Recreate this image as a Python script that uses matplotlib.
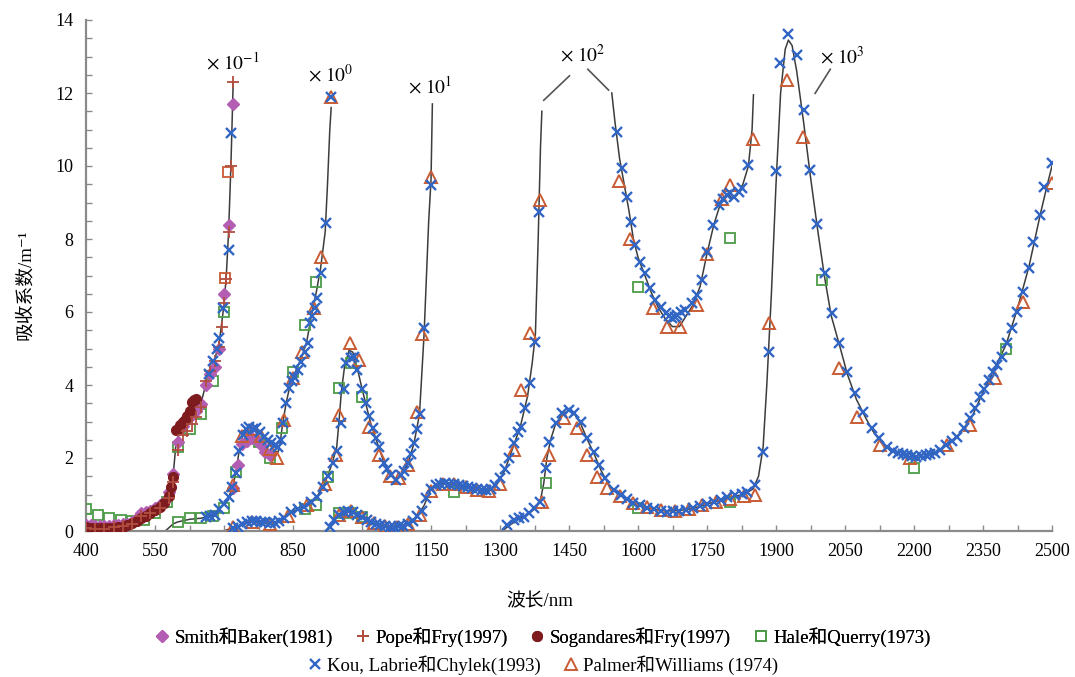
import matplotlib
matplotlib.use('Agg')
import matplotlib.pyplot as plt
from matplotlib.lines import Line2D

plt.rcParams['font.family'] = ['Liberation Serif', 'Noto Sans CJK SC', 'DejaVu Serif']
plt.rcParams['mathtext.fontset'] = 'stix'

# ---- continuous curves, one per scale segment (wavelength nm, value) ----
curve_m1_wl = [400, 420, 440, 460, 480, 500, 520, 540, 560, 575, 585, 590, 595, 600, 610, 620,
               630, 640, 650, 660, 670, 680, 690, 700, 705, 710, 715, 720]
curve_m1_val = [0.07, 0.05, 0.06, 0.10, 0.15, 0.20, 0.30, 0.45, 0.62, 0.85, 1.2, 1.6, 2.3, 2.6, 2.8, 2.9,
                3.05, 3.25, 3.5, 4.0, 4.4, 4.7, 5.2, 6.2, 7.0, 8.2, 10.0, 12.3]

curve_0_wl = [575, 590, 600, 625, 650, 675, 690, 700, 710, 720, 727, 733, 740, 750, 760, 770, 780,
              790, 800, 810, 817, 822, 827, 835, 842, 850, 860, 870, 880, 890, 900, 910, 920, 925, 930, 933]
curve_0_val = [0.03, 0.2, 0.25, 0.32, 0.35, 0.42, 0.6, 0.75, 0.92, 1.25, 1.7, 2.2, 2.6, 2.8, 2.85, 2.78, 2.65,
               2.5, 2.35, 2.2, 2.15, 2.4, 2.9, 3.5, 3.9, 4.2, 4.5, 4.8, 5.2, 5.9, 6.5, 7.2, 8.2, 9.5, 11.0, 11.6]

curve_1_wl = [705, 720, 740, 760, 780, 800, 820, 840, 860, 880, 900, 915, 925, 935, 945, 950, 955, 962,
              972, 980, 990, 1000, 1010, 1020, 1035, 1050, 1062, 1073, 1085, 1100, 1113, 1125, 1135, 1145,
              1150, 1153]
curve_1_val = [0.03, 0.08, 0.18, 0.27, 0.26, 0.22, 0.28, 0.45, 0.6, 0.72, 0.9, 1.2, 1.5, 1.85, 2.3, 3.0, 3.8, 4.5,
               4.95, 4.9, 4.45, 3.9, 3.4, 2.9, 2.35, 1.8, 1.55, 1.42, 1.5, 1.85, 2.4, 3.2, 5.4, 8.5,
               9.6, 11.7]

curve_2a_wl = [920, 935, 950, 970, 990, 1010, 1030, 1060, 1080, 1100, 1120, 1135, 1150, 1170, 1190, 1220,
               1250, 1275, 1290, 1310, 1330, 1345, 1360, 1370, 1377, 1383, 1388, 1391]
curve_2a_val = [0.0, 0.2, 0.45, 0.55, 0.45, 0.3, 0.2, 0.12, 0.13, 0.2, 0.4, 0.7, 1.15, 1.3, 1.3, 1.22,
                1.15, 1.12, 1.22, 1.65, 2.35, 2.9, 3.7, 4.6, 5.4, 8.0, 10.5, 11.5]

curve_2b_wl = [1543, 1550, 1560, 1570, 1580, 1590, 1600, 1615, 1630, 1645, 1660, 1675, 1690, 1705, 1720,
               1735, 1750, 1765, 1780, 1795, 1805, 1815, 1828, 1840, 1848, 1851]
curve_2b_val = [12.0, 11.2, 10.2, 9.5, 8.8, 8.0, 7.5, 7.0, 6.5, 6.1, 5.8, 5.6, 5.6, 5.9, 6.2,
                6.7, 7.6, 8.4, 9.0, 9.25, 9.1, 9.2, 9.5, 10.0, 11.0, 11.95]

curve_3_wl = [1305, 1320, 1340, 1360, 1375, 1388, 1395, 1402, 1410, 1420, 1435, 1450, 1462, 1475, 1490,
              1505, 1520, 1535, 1550, 1570, 1600, 1630, 1660, 1690, 1720, 1750, 1780, 1800, 1830, 1850,
              1862, 1872, 1880, 1890, 1900, 1910, 1920, 1927, 1935, 1945, 1960, 1975, 1990, 2005, 2020,
              2040, 2055, 2075, 2095, 2110, 2130, 2150, 2175, 2200, 2225, 2250, 2275, 2300, 2325, 2350,
              2375, 2400, 2425, 2450, 2475, 2490, 2500]
curve_3_val = [0.0, 0.15, 0.32, 0.45, 0.6, 0.85, 1.3, 2.0, 2.5, 2.9, 3.2, 3.3, 3.2, 2.95, 2.5,
               2.1, 1.65, 1.3, 1.08, 0.9, 0.72, 0.6, 0.55, 0.56, 0.62, 0.74, 0.85, 0.93, 1.0, 1.15,
               1.5, 2.3, 4.0, 6.5, 9.5, 12.0, 13.2, 13.45, 13.3, 12.6, 11.2, 9.7, 8.3, 7.0, 5.9,
               5.0, 4.3, 3.6, 3.1, 2.75, 2.4, 2.2, 2.07, 2.0, 2.05, 2.18, 2.38, 2.68, 3.1, 3.8,
               4.45, 5.1, 6.1, 7.25, 8.7, 9.5, 10.0]

# ---- Smith & Baker (1981) ----
smith_wl = [400, 410, 420, 430, 440, 450, 460, 470, 480, 490, 500, 510, 520, 530, 540, 550, 560, 570,
            580, 590, 600, 610, 620, 630, 640, 650, 660, 670, 680, 690, 700, 710, 720]
smith_val = [0.17, 0.16, 0.15, 0.14, 0.15, 0.15, 0.16, 0.16, 0.18, 0.2, 0.26, 0.36, 0.48, 0.51, 0.56, 0.64,
             0.71, 0.8, 1.08, 1.57, 2.44, 2.89, 3.09, 3.19, 3.29, 3.49, 4.0, 4.3, 4.5, 5.0, 6.5, 8.39, 11.69]
smith_wl_b = [720, 730, 740, 750, 760, 770, 780, 790, 800]
smith_val_b = [1.17, 1.8, 2.38, 2.47, 2.55, 2.51, 2.36, 2.16, 2.07]

# ---- Pope & Fry (1997) ----
pope_wl = [400, 420, 440, 460, 480, 500, 520, 540, 560, 580, 590, 600, 610, 620, 630, 640, 650, 660,
           670, 680, 690, 695, 700, 705, 710, 715, 720]
pope_val = [0.07, 0.05, 0.06, 0.10, 0.13, 0.2, 0.41, 0.48, 0.62, 0.9, 1.35, 2.22, 2.64, 2.75, 2.92, 3.11, 3.4, 4.1,
            4.39, 4.65, 5.05, 5.6, 6.24, 6.9, 8.2, 10.0, 12.3]

# ---- Sogandares & Fry (1997) ----
sog_wl = [400, 410, 420, 430, 440, 450, 460, 470, 480, 490, 500, 510, 520, 530, 540, 550, 560, 570,
          580, 585, 590, 595, 600, 605, 610, 615, 620, 625, 630, 635, 640]
sog_val = [0.10, 0.09, 0.08, 0.08, 0.07, 0.07, 0.08, 0.10, 0.12, 0.17, 0.22, 0.28, 0.35, 0.42, 0.50, 0.58, 0.66, 0.78,
           0.95, 1.2, 1.49, 2.77, 2.8, 2.9, 2.98, 3.04, 3.15, 3.3, 3.54, 3.58, 3.63]

# ---- Hale & Querry (1973) ----
hale_wl_m1 = [400, 425, 450, 475, 500, 525, 550, 575, 600, 625, 650, 675, 700]
hale_val_m1 = [0.6, 0.44, 0.36, 0.3, 0.27, 0.3, 0.49, 0.79, 2.3, 2.8, 3.2, 4.1, 6.0]
hale_wl_0 = [600, 625, 650, 675, 700, 725, 750, 775, 800, 825, 850, 875, 900]
hale_val_0 = [0.26, 0.35, 0.35, 0.42, 0.62, 1.62, 2.6, 2.45, 1.99, 2.81, 4.36, 5.64, 6.83]
hale_wl_1 = [875, 900, 925, 950, 975, 1000]
hale_val_1 = [0.6, 0.7, 1.49, 3.91, 4.6, 3.68]
hale_wl_2 = [950, 975, 1000, 1200, 1600, 1800]
hale_val_2 = [0.5, 0.5, 0.38, 1.08, 6.69, 8.02]
hale_wl_3 = [1400, 1600, 1800, 2000, 2200, 2400]
hale_val_3 = [1.31, 0.62, 0.8, 6.88, 1.72, 5.0]
# two squares drawn in orange near 700 nm
hale_alt_wl = [702, 708]
hale_alt_val = [6.92, 9.84]

# ---- Kou, Labrie & Chylek (1993) ----
kou_wl_m1 = [667, 677, 685, 690, 697, 710, 716]
kou_val_m1 = [4.3, 4.65, 5.0, 5.28, 6.1, 7.7, 10.9]
kou_wl_0 = [660, 670, 680, 690, 700, 710, 718, 726, 733, 741, 748, 755, 763, 770, 778, 788, 795, 802,
            810, 817, 823, 828, 835, 842, 847, 853, 860, 868, 875, 882, 886, 892, 897, 903, 911, 922, 933]
kou_val_0 = [0.38, 0.40, 0.45, 0.6, 0.75, 0.92, 1.2, 1.58, 2.2, 2.63, 2.8, 2.86, 2.8, 2.81, 2.7, 2.58, 2.5, 2.4,
             2.35, 2.31, 2.5, 2.95, 3.5, 3.91, 4.1, 4.23, 4.4, 4.64, 4.9, 5.14, 5.69, 5.9, 6.1, 6.38, 7.06, 8.43, 11.9]
kou_wl_1 = [720, 730, 740, 750, 760, 770, 780, 790, 800, 810, 820, 830, 845, 860, 874, 890, 903, 915, 926,
            936, 945, 954, 960, 965, 975, 983, 990, 1000, 1008, 1015, 1023, 1030, 1037, 1048, 1055, 1062,
            1073, 1084, 1092, 1099, 1106, 1113, 1120, 1127, 1135, 1149]
kou_val_1 = [0.08, 0.12, 0.18, 0.24, 0.27, 0.27, 0.26, 0.24, 0.22, 0.23, 0.28, 0.36, 0.53, 0.6, 0.67, 0.8, 0.94, 1.2, 1.5,
             1.85, 2.2, 2.95, 3.9, 4.59, 4.75, 4.78, 4.41, 3.9, 3.5, 3.15, 2.81, 2.55, 2.31, 1.85, 1.7, 1.53,
             1.4, 1.53, 1.65, 1.85, 2.1, 2.4, 2.8, 3.2, 5.55, 9.48]
kou_wl_2a = [930, 940, 950, 960, 970, 980, 990, 1000, 1010, 1020, 1030, 1040, 1050, 1060, 1070, 1080, 1090,
             1100, 1110, 1120, 1130, 1140, 1150, 1160, 1170, 1180, 1190, 1200, 1210, 1220, 1230, 1240, 1250,
             1260, 1270, 1280, 1290, 1300, 1310, 1320, 1330, 1340, 1345, 1355, 1366, 1377, 1384]
kou_val_2a = [0.1, 0.3, 0.45, 0.52, 0.55, 0.52, 0.45, 0.38, 0.3, 0.24, 0.2, 0.16, 0.14, 0.12, 0.12, 0.13, 0.15,
              0.2, 0.28, 0.4, 0.55, 0.9, 1.15, 1.25, 1.3, 1.32, 1.3, 1.28, 1.25, 1.22, 1.2, 1.17, 1.15,
              1.13, 1.12, 1.15, 1.25, 1.45, 1.7, 2.0, 2.4, 2.7, 2.86, 3.36, 4.05, 5.19, 8.74]
kou_wl_2b = [1555, 1565, 1576, 1585, 1594, 1605, 1616, 1627, 1638, 1649, 1660, 1667, 1674, 1680, 1685, 1694,
             1703, 1717, 1728, 1739, 1750, 1763, 1775, 1785, 1794, 1800, 1808, 1819, 1826, 1840]
kou_val_2b = [10.94, 9.94, 9.16, 8.47, 7.84, 7.38, 7.07, 6.66, 6.33, 6.14, 5.96, 5.9, 5.83, 5.85, 5.92, 6.0,
              6.05, 6.24, 6.47, 6.88, 7.65, 8.38, 8.93, 9.1, 9.2, 9.25, 9.16, 9.3, 9.39, 10.03]
kou_wl_3 = [1316, 1330, 1342, 1352, 1363, 1374, 1386, 1399, 1406, 1421, 1435, 1450, 1460, 1475, 1490, 1504,
            1515, 1529, 1547, 1562, 1575, 1590, 1605, 1620, 1635, 1650, 1663, 1675, 1690, 1705, 1720, 1735,
            1750, 1765, 1780, 1794, 1810, 1825, 1837, 1855, 1872, 1884, 1901, 1908, 1927, 1946, 1960, 1974,
            1990, 2007, 2022, 2037, 2054, 2072, 2090, 2108, 2123, 2141, 2155, 2165, 2175, 2185, 2195, 2205,
            2215, 2225, 2235, 2245, 2257, 2270, 2282, 2293, 2308, 2322, 2333, 2344, 2353, 2362, 2371, 2380,
            2391, 2402, 2412, 2423, 2436, 2449, 2459, 2474, 2483, 2499]
kou_val_3 = [0.16, 0.3, 0.35, 0.39, 0.5, 0.62, 0.8, 1.72, 2.45, 2.95, 3.22, 3.32, 3.22, 2.99, 2.54, 2.17,
             1.81, 1.44, 1.12, 0.99, 0.88, 0.78, 0.7, 0.64, 0.6, 0.56, 0.53, 0.55, 0.56, 0.58, 0.62, 0.68,
             0.74, 0.8, 0.86, 0.94, 0.98, 1.02, 1.08, 1.26, 2.17, 4.91, 9.85, 12.81, 13.63, 13.04, 11.53, 9.89,
             8.41, 7.06, 5.96, 5.14, 4.36, 3.77, 3.27, 2.81, 2.54, 2.31, 2.2, 2.14, 2.1, 2.07, 2.05, 2.04,
             2.05, 2.07, 2.1, 2.15, 2.22, 2.36, 2.47, 2.58, 2.83, 3.09, 3.38, 3.68, 3.9, 4.14, 4.35, 4.55,
             4.78, 5.14, 5.55, 6.01, 6.56, 7.2, 7.93, 8.66, 9.43, 10.07]

# ---- Palmer & Williams (1974) ----
palmer_wl_0 = [720, 740, 760, 780, 800, 816, 831, 850, 870, 896, 910, 932]
palmer_val_0 = [1.25, 2.6, 2.8, 2.6, 2.25, 1.99, 3.04, 4.2, 4.9, 6.1, 7.52, 11.9]
palmer_wl_1 = [720, 760, 800, 840, 880, 920, 943, 950, 974, 993, 1015, 1037, 1060, 1080, 1100, 1120, 1131, 1150]
palmer_val_1 = [0.1, 0.25, 0.2, 0.42, 0.7, 1.3, 2.08, 3.18, 5.14, 4.68, 2.86, 2.08, 1.5, 1.45, 1.8, 3.27, 5.4, 9.7]
palmer_wl_2a = [950, 975, 1000, 1025, 1050, 1075, 1100, 1125, 1150, 1175, 1200, 1225, 1250, 1275, 1300,
                1330, 1345, 1366, 1388]
palmer_val_2a = [0.45, 0.55, 0.38, 0.22, 0.13, 0.12, 0.2, 0.45, 1.1, 1.28, 1.3, 1.2, 1.12, 1.1, 1.3,
                 2.22, 3.86, 5.42, 9.07]
palmer_wl_2b = [1558, 1583, 1633, 1663, 1692, 1728, 1750, 1783, 1801, 1851]
palmer_val_2b = [9.6, 8.0, 6.1, 5.6, 5.6, 6.2, 7.6, 9.1, 9.48, 10.73]
palmer_wl_3 = [1392, 1406, 1439, 1468, 1490, 1511, 1533, 1560, 1590, 1620, 1650, 1680, 1710, 1740, 1770,
               1800, 1830, 1855, 1884, 1924, 1958, 2036, 2076, 2125, 2191, 2271, 2322, 2376, 2438, 2499]
palmer_val_3 = [0.8, 2.08, 3.09, 2.81, 2.08, 1.49, 1.17, 0.95, 0.78, 0.65, 0.57, 0.55, 0.6, 0.7, 0.8,
                0.88, 0.95, 0.99, 5.69, 12.36, 10.8, 4.46, 3.13, 2.36, 2.0, 2.36, 2.9, 4.18, 6.28, 9.53]

legend_labels = ['Smith和Baker(1981)', 'Pope和Fry(1997)', 'Sogandares和Fry(1997)', 'Hale和Querry(1973)',
                 'Kou, Labrie和Chylek(1993)', 'Palmer和Williams (1974)']

# ---- styles ----
c_smith, c_pope, c_sog = '#b35db3', '#b24e40', '#7d1b1e'
c_hale, c_kou, c_palmer = '#4c9c48', '#3166c4', '#c85c34'

st_smith = dict(ls='none', marker='D', ms=6, color=c_smith, mec=c_smith)
st_pope = dict(ls='none', marker='+', ms=9, mew=1.3, color=c_pope)
st_sog = dict(ls='none', marker='o', ms=7, color=c_sog, mec=c_sog)
st_hale = dict(ls='none', marker='s', ms=7, mfc='none', mec=c_hale, mew=1.3)
st_kou = dict(ls='none', marker='x', ms=7.5, mew=1.7, color=c_kou)
st_palmer = dict(ls='none', marker='^', ms=8, mfc='none', mec=c_palmer, mew=1.4)

fig = plt.figure(figsize=(10.75, 6.77), dpi=100)
ax = fig.add_axes([86 / 1075, 1 - 531 / 677, (1052 - 86) / 1075, (531 - 20) / 677])

curves = [(curve_m1_wl, curve_m1_val), (curve_0_wl, curve_0_val), (curve_1_wl, curve_1_val),
          (curve_2a_wl, curve_2a_val), (curve_2b_wl, curve_2b_val), (curve_3_wl, curve_3_val)]
for wl, v in curves:
    ax.plot(wl, v, color='#3c3c3c', lw=1.1, zorder=2)

for wl, v in [(hale_wl_m1, hale_val_m1), (hale_wl_0, hale_val_0), (hale_wl_1, hale_val_1),
              (hale_wl_2, hale_val_2), (hale_wl_3, hale_val_3)]:
    ax.plot(wl, v, zorder=3, **st_hale)
ax.plot(hale_alt_wl, hale_alt_val, ls='none', marker='s', ms=7, mfc='none', mec=c_palmer, mew=1.3, zorder=3)

ax.plot(smith_wl, smith_val, zorder=4, **st_smith)
ax.plot(smith_wl_b, smith_val_b, zorder=4, **st_smith)
ax.plot(sog_wl, sog_val, zorder=5, **st_sog)
ax.plot(pope_wl, pope_val, zorder=6, **st_pope)

for wl, v in [(palmer_wl_0, palmer_val_0), (palmer_wl_1, palmer_val_1), (palmer_wl_2a, palmer_val_2a),
              (palmer_wl_2b, palmer_val_2b), (palmer_wl_3, palmer_val_3)]:
    ax.plot(wl, v, zorder=6, **st_palmer)

for wl, v in [(kou_wl_m1, kou_val_m1), (kou_wl_0, kou_val_0), (kou_wl_1, kou_val_1),
              (kou_wl_2a, kou_val_2a), (kou_wl_2b, kou_val_2b), (kou_wl_3, kou_val_3)]:
    ax.plot(wl, v, zorder=7, **st_kou)

# scale annotations
ann_fs = 14
ax.text(719, 12.85, r'$\times\ 10^{-1}$', ha='center', va='center', fontsize=ann_fs)
ax.text(932, 12.5, r'$\times\ 10^{0}$', ha='center', va='center', fontsize=ann_fs)
ax.text(1149, 12.2, r'$\times\ 10^{1}$', ha='center', va='center', fontsize=ann_fs)
ax.text(1479, 13.05, r'$\times\ 10^{2}$', ha='center', va='center', fontsize=ann_fs)
ax.text(2045, 13.0, r'$\times\ 10^{3}$', ha='center', va='center', fontsize=ann_fs)
ax.plot([1395, 1451], [11.8, 12.47], color='#555555', lw=1.2, zorder=2)
ax.plot([1491, 1536], [12.65, 12.08], color='#555555', lw=1.2, zorder=2)
ax.plot([1985, 2018], [11.99, 12.65], color='#555555', lw=1.2, zorder=2)

ax.set_xlim(400, 2500)
ax.set_ylim(0, 14)
ax.set_xticks(range(400, 2501, 150))
ax.set_xticks(range(400, 2501, 75), minor=True)
ax.set_yticks(range(0, 15, 2))
ax.set_yticks([i * 0.5 for i in range(29)], minor=True)
for s in ['top', 'right']:
    ax.spines[s].set_visible(False)
for s in ['left', 'bottom']:
    ax.spines[s].set_color('#8a8a8a')
    ax.spines[s].set_linewidth(1.6)
ax.tick_params(which='both', direction='in', length=4, width=1, color='#8a8a8a', labelsize=13)
ax.tick_params(axis='x', pad=9)
ax.tick_params(axis='y', pad=9)

fig.text(540 / 1075, 1 - 602 / 677, '波长/nm', ha='center', va='center', fontsize=13.5)
fig.text(25 / 1075, 1 - 285 / 677, '吸收系数/m⁻¹', ha='center', va='center', rotation=90, fontsize=13.5)

styles = [st_smith, st_pope, st_sog, st_hale, st_kou, st_palmer]
handles = []
for st in styles:
    d = dict(st)
    d.pop('ls')
    handles.append(Line2D([], [], ls='none', **d))
leg_kw = dict(frameon=False, fontsize=13.5, handletextpad=0.05, columnspacing=1.0, handlelength=1.2,
              borderpad=0, loc='center')
leg1 = fig.legend(handles[:4], legend_labels[:4], ncol=4, bbox_to_anchor=(0.503, 1 - 637 / 677), **leg_kw)
fig.add_artist(leg1)
fig.legend(handles[4:], legend_labels[4:], ncol=2, bbox_to_anchor=(0.503, 1 - 665 / 677), **leg_kw)

fig.savefig('out.png', dpi=100)
